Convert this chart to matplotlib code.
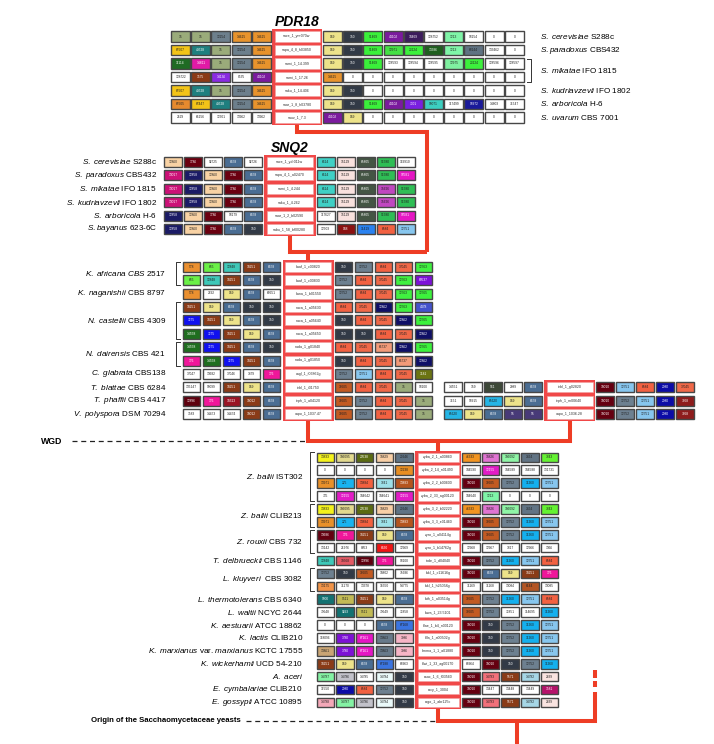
import matplotlib.pyplot as plt
from matplotlib.patches import Rectangle
from matplotlib.colors import to_rgb

plt.rcParams['font.family'] = ['Liberation Sans', 'DejaVu Sans']
plt.rcParams['mathtext.fontset'] = 'custom'
plt.rcParams['mathtext.rm'] = 'Liberation Sans'
plt.rcParams['mathtext.it'] = 'Liberation Sans:italic'
plt.rcParams['mathtext.bf'] = 'Liberation Sans:bold'

LINE_RED = '#ee3d25'
BAND_RED = '#f04848'

# homolog family -> colour (ids not listed are drawn white)
family_colors = {
    '15': '#9aab7a', '12254': '#6d7f8c', '14615': '#e8932c', '949': '#ede38a',
    '150': '#323a46', '91469': '#3af03a', '44102': '#7b1a9e', '18469': '#3c1c5c',
    '1213': '#7ff5a8', '67507': '#f2c418', '67447': '#f2c418', '67505': '#e68a2e',
    '40528': '#1f7f7f', '12971': '#44e044', '23124': '#3cf03c', '13386': '#1e5e1e',
    '68144': '#5f7282', '11114': '#1f6b24', '14811': '#e21aa6', '12975': '#7ff0a0',
    '3575': '#8b3a16', '14136': '#8a2be2', '7001': '#7a1fe0', '93071': '#3ccfc0',
    '93972': '#1a1a9a',
    '12860': '#f8d2a4', '1786': '#6b0010', '6478': '#4a6d93', '6614': '#3fd0c5',
    '15129': '#f9e1de', '65805': '#445544', '91580': '#2fbe55', '13017': '#cc1177',
    '12858': '#1b1b66', '93581': '#e616c4', '15626': '#c047c0', '948': '#8b1111',
    '11419': '#2a82f0', '6584': '#f26141', '12751': '#87c6ee',
    '578': '#ea9030', '655': '#6af046', '12848': '#3ec8b8', '18251': '#8a3b17',
    '12752': '#6d8090', '37045': '#f06848', '12763': '#40f040', '69537': '#7d10d8',
    '12765': '#3cf23c', '7275': '#1010f0', '14558': '#1f6e1f', '12862': '#0f0f66',
    '4478': '#4452cc', '176': '#f0169a', '66737': '#f29a78', '3181': '#6b7412',
    '36605': '#c25a22', '12896': '#5e000e', '10313': '#9a1424', '18012': '#8a3b17',
    '561': '#3d4838', '10010': '#650010', '2080': '#0c0ca6', '65620': '#25b5e5',
    '55': '#483a78', '7668': '#8e1c1c',
    '13833': '#f4f21c', '106095': '#e2d98e', '20538': '#5b6b12', '18829': '#f8cfa6',
    '20246': '#5f7385', '46333': '#f29420', '18826': '#e074d2', '106092': '#8ff5a6',
    '3464': '#627484', '7843': '#64f232', '12238': '#e88e22', '13971': '#e8902a',
    '225': '#19b3ef', '13884': '#f2603f', '3841': '#9de0e8', '13883': '#b4541e',
    '11260': '#14b0ee', '12155': '#e21cc6', '13686': '#640010', '6430': '#f01414',
    '10568': '#e35a64', '13175': '#f29448', '6144': '#b35524', '9300': '#137272',
    '9293': '#137272', '9511': '#c2ba55', '67168': '#3a74e0', '67188': '#3a74e0',
    '3780': '#7d12d6', '67161': '#e516c4', '13863': '#687a8a', '3986': '#f6b5c6',
    '13861': '#c9a575', '14787': '#84f2a4', '14786': '#c2c2ca', '14784': '#eafafa',
    '14783': '#f2707a', '5571': '#8a3b17', '14782': '#a6d6e6', '2839': '#f9e3e0',
    '3581': '#b5126a', '14788': '#f4a8b8',
}

# ---------------- PDR18 ----------------
pdr18_species = [r'$\mathit{S.\ cerevisiae}$ S288c', r'$\mathit{S.paradoxus}$ CBS432',
                 r'$\mathit{S.\ mikatae}$ IFO 1815', r'$\mathit{S.\ kudriavzevii}$ IFO 1802',
                 r'$\mathit{S.\ arboricola}$ H-6', r'$\mathit{S.\ uvarum}$ CBS 7001']
pdr18_label_rows = [[0], [1], [2, 3], [4], [5], [6]]
pdr18_genes = ['sace_1_ynr070w', 'sapa_4_8_h03850', 'sami_1_14.399', 'sami_1_17.26',
               'saku_1_14.406', 'saar_1_8_h03780', 'sauv_1_7.3']
pdr18_left = [
    ['15', '15', '12254', '14615', '14615'],
    ['67507', '40528', '15', '12254', '14615'],
    ['11114', '14811', '15', '12254', '14615'],
    ['128722', '3575', '14136', '8535', '44102'],
    ['67507', '40528', '15', '12254', '14615'],
    ['67505', '67447', '40528', '12254', '14615'],
    ['2529', '66156', '12301', '13962', '13962'],
]
pdr18_right = [
    ['949', '150', '91469', '44102', '18469', '128752', '1213', '93154', '0', '0'],
    ['949', '150', '91469', '12971', '23124', '13386', '1213', '68144', '133462', '0'],
    ['949', '150', '91469', '128593', '128594', '128595', '12975', '23124', '128596', '128597'],
    ['14615', '0', '0', '0', '0', '0', '0', '0', '0', '0'],
    ['949', '150', '0', '0', '0', '0', '0', '0', '0', '0'],
    ['949', '150', '91469', '44102', '7001', '93071', '117499', '93972', '14803', '71547'],
    ['44102', '949', '0', '0', '0', '0', '0', '0', '0', '0'],
]

# ---------------- SNQ2 ----------------
snq2_species = [r'$\mathit{S.\ cerevisiae}$ S288c', r'$\mathit{S.\ paradoxus}$ CBS432',
                r'$\mathit{S.\ mikatae}$ IFO 1815', r'$\mathit{S.\ kudriavzevii}$ IFO 1802',
                r'$\mathit{S.\ arboricola}$ H-6', r'$\mathit{S.bayanus}$ 623-6C']
snq2_genes = ['sace_1_ydr011w', 'sapa_4_1_a02470', 'sami_1_4.244', 'saku_1_4.262',
              'saar_1_2_b02590', 'sabu_1_58_bf00280']
snq2_left = [
    ['12860', '1786', '92725', '6478', '92726'],
    ['13017', '12858', '12860', '1786', '6478'],
    ['13017', '12858', '12860', '1786', '6478'],
    ['13017', '12858', '12860', '1786', '6478'],
    ['12858', '12860', '1786', '93179', '6478'],
    ['12858', '12860', '1786', '6478', '150'],
]
snq2_right = [
    ['6614', '15129', '65805', '91580', '119910'],
    ['6614', '15129', '65805', '91580', '93581'],
    ['6614', '15129', '65805', '15626', '91580'],
    ['6614', '15129', '65805', '15626', '91580'],
    ['117627', '15129', '65805', '91580', '93581'],
    ['12503', '948', '11419', '6584', '12751'],
]

# ---------------- pre-WGD / post-WGD block ----------------
mid_species = [r'$\mathit{K.\ africana\ CBS\ 2517}$', r'$\mathit{K.\ naganishii}$ CBS 8797',
               r'$\mathit{N.\ castellii}$ CBS 4309', r'$\mathit{N.\ dairensis}$ CBS 421',
               r'$\mathit{C.\ glabrata}$ CBS138', r'$\mathit{T.\ blattae}$ CBS 6284',
               r'$\mathit{T.\ phaffii}$ CBS 4417', r'$\mathit{V.\ polyspora}$ DSM 70294']
mid_label_rows = [[0, 1], [2], [3, 4, 5], [6, 7], [8], [9], [10], [11]]
mid_genes = ['kaaf_1_c00820', 'kaaf_1_c00830', 'kana_1_b01550', 'naca_1_a05630',
             'naca_1_a05640', 'naca_1_a05650', 'nada_1_g01840', 'nada_1_g01850',
             'cagl_1_i06862g', 'tebl_1_i01750', 'teph_1_a04120', 'vapo_1_1037.47']
mid_left = [
    ['578', '655', '12848', '18251', '6478'],
    ['655', '12848', '18251', '6478', '150'],
    ['578', '2692', '949', '6478', '66651'],
    ['18251', '949', '6478', '150', '150'],
    ['7275', '18251', '949', '6478', '150'],
    ['14558', '7275', '18251', '949', '6478'],
    ['14558', '7275', '18251', '6478', '150'],
    ['176', '14558', '7275', '18251', '6478'],
    ['37047', '13682', '37046', '3379', '176'],
    ['135147', '98099', '18251', '949', '6478'],
    ['12896', '176', '10313', '18012', '6478'],
    ['3583', '14473', '14474', '18012', '6478'],
]
mid_right = [
    ['150', '12752', '6584', '37045', '12763'],
    ['12752', '6584', '37045', '12763', '69537'],
    ['12752', '6584', '37045', '12763', '12765'],
    ['6584', '37045', '12862', '12763', '4478'],
    ['150', '6584', '37045', '12862', '12765'],
    ['150', '150', '6584', '37045', '12862'],
    ['6584', '37045', '66737', '12862', '12765'],
    ['150', '6584', '37045', '66737', '12862'],
    ['12752', '12751', '6584', '37045', '3181'],
    ['36605', '6584', '37045', '15', '98100'],
    ['36605', '12752', '6584', '37045', '15'],
    ['36605', '12752', '6584', '37045', '15'],
]
# second (ohnolog) copies of the last three species
ohno_genes = ['tebl_1_g02820', 'teph_1_m00640', 'vapo_1_1036.28']
ohno_left = [
    ['14551', '159', '561', '2989', '6478'],
    ['7151', '98915', '65620', '949', '6478'],
    ['65620', '949', '6478', '55', '55'],
]
ohno_right = [
    ['10010', '12751', '6584', '2080', '37045'],
    ['10010', '12752', '12751', '2080', '7668'],
    ['10010', '12752', '12751', '2080', '7668'],
]

# ---------------- lower block ----------------
low_species = [r'$\mathit{Z.\ bailii}$ IST302', r'$\mathit{Z.\ bailii}$ CLIB213',
               r'$\mathit{Z.\ rouxii}$ CBS 732', r'$\mathit{T.\ delbrueckii}$ CBS 1146',
               r'$\mathit{L.\ kluyveri}$  CBS 3082', r'$\mathit{L.\ thermotolerans}$ CBS 6340',
               r'$\mathit{L.\ waltii}$ NCYC 2644', r'$\mathit{K.\ aestuarii}$ ATCC 18862',
               r'$\mathit{K.\ lactis}$ CLIB210',
               r'$\mathit{K.\ marxianus}$ var. $\mathit{marxianus}$ KCTC 17555',
               r'$\mathit{K.\ wickerhamii}$ UCD 54-210', r'$\mathit{A.\ aceri}$',
               r'$\mathit{E.\ cymbalariae}$ CLIB210', r'$\mathit{E.\ gossypii}$ ATCC 10895']
low_label_rows = [[0, 1, 2, 3], [4, 5], [6, 7], [8], [9, 10], [11], [12], [13], [14],
                  [15], [16], [17], [18], [19]]
low_genes = ['zyba_2_1_a00860', 'zyba_2_14_n01490', 'zyba_2_2_b00600', 'zyba_2_33_ag00120',
             'zyba_3_2_b02220', 'zyba_3_3_e01460', 'zyro_1_a04114g', 'zyro_1_b14762g',
             'tode_1_d04040', 'lakl_1_c11616g', 'lakl_1_h25058g', 'lath_1_a03514g',
             'lawa_1_23.5101', 'klae_1_b4_n00120', 'klla_1_a00502g', 'kmma_1_1_a01880',
             'klwi_1_33_ag00170', 'esac_1_6_f03560', 'ercy_1_3004', 'ergo_1_abr125c']
low_left = [
    ['13833', '106095', '20538', '18829', '20246'],
    ['0', '0', '0', '0', '12238'],
    ['13971', '225', '13884', '3841', '13883'],
    ['735', '12155', '104642', '104641', '12155'],
    ['13833', '106095', '20538', '18829', '20246'],
    ['13971', '225', '13884', '3841', '13883'],
    ['13686', '176', '18251', '949', '6478'],
    ['13142', '21976', '8053', '6430', '12969'],
    ['12848', '10568', '12896', '176', '98100'],
    ['12752', '150', '36605', '10802', '75686'],
    ['13175', '71170', '13378', '16550', '54775'],
    ['9300', '9511', '18251', '949', '6478'],
    ['73648', '9293', '9511', '73649', '72858'],
    ['0', '0', '0', '6478', '67168'],
    ['118096', '3780', '67161', '13863', '3986'],
    ['13861', '3780', '67161', '13863', '3986'],
    ['18251', '949', '6478', '67188', '68963'],
    ['14787', '14786', '14785', '14784', '150'],
    ['11550', '2080', '6584', '12752', '150'],
    ['14788', '14787', '14786', '14784', '150'],
]
low_right = [
    ['46333', '18826', '106092', '3464', '7843'],
    ['104590', '12155', '104589', '104588', '131731'],
    ['10010', '36605', '12752', '11260', '12751'],
    ['104640', '1213', '0', '0', '0'],
    ['46333', '18826', '106092', '3464', '7843'],
    ['10010', '36605', '12752', '11260', '12751'],
    ['10010', '36605', '12752', '11260', '12751'],
    ['12968', '12967', '3817', '12966', '1366'],
    ['10010', '12752', '11260', '12751', '6584'],
    ['10010', '6478', '949', '18251', '176'],
    ['71169', '71168', '13084', '6144', '13085'],
    ['36605', '12752', '11260', '12751', '6584'],
    ['36605', '12752', '72851', '114695', '11260'],
    ['10010', '150', '12752', '11260', '12751'],
    ['10010', '150', '12752', '11260', '12751'],
    ['10010', '150', '12752', '11260', '12751'],
    ['68964', '10010', '150', '12752', '11260'],
    ['10010', '14783', '5571', '14782', '2839'],
    ['10010', '13447', '13448', '13449', '3581'],
    ['10010', '14783', '5571', '14782', '2839'],
]


def text_color(c):
    r, g, b = to_rgb(c)
    return 'white' if 0.299 * r + 0.587 * g + 0.114 * b < 0.42 else '#222222'


def draw_block(ax, left, genes, right, x0, y0, dy, pitch, w, h, gene_w):
    """draw rows of neighbour boxes around a red column of focal genes, return geometry"""
    n = len(genes)
    gx = x0 + len(left[0]) * pitch
    rx = gx + gene_w + 1
    top = y0 - h / 2 - 2
    bottom = y0 + (n - 1) * dy + h / 2 + 2
    ax.add_patch(Rectangle((gx, top), gene_w, bottom - top, facecolor=BAND_RED,
                           edgecolor='none', zorder=1))
    for i in range(n):
        yc = y0 + i * dy
        xs = [x0 + j * pitch for j in range(len(left[i]))] + \
             [rx + j * pitch for j in range(len(right[i]))]
        for x, gid in zip(xs, left[i] + right[i]):
            col = family_colors.get(gid, 'white')
            ax.add_patch(Rectangle((x, yc - h / 2), w, h, facecolor=col,
                                   edgecolor='#474747', lw=1.0, zorder=2))
            ax.text(x + w / 2, yc, gid, fontsize=2.3, ha='center', va='center',
                    color=text_color(col), zorder=3)
        ax.add_patch(Rectangle((gx + 2.5, yc - h / 2), gene_w - 5, h, facecolor='white',
                               edgecolor='#f3a0a0', lw=0.4, zorder=2))
        ax.text(gx + gene_w / 2, yc, genes[i], fontsize=2.6, ha='center', va='center',
                color='#333333', zorder=3)
    return gx + gene_w / 2, top, bottom


def bracket(ax, x, y1, y2, tick):
    ax.plot([x + tick, x, x, x + tick], [y1, y1, y2, y2], color='#333333', lw=0.7)


def red_path(ax, xs, ys, **kw):
    ax.plot(xs, ys, color=LINE_RED, lw=2.9, solid_joinstyle='miter',
            solid_capstyle='butt', zorder=0, **kw)


fig = plt.figure(figsize=(7.14, 7.44), dpi=100)
ax = fig.add_axes([0, 0, 1, 1])
ax.set_xlim(0, 714)
ax.set_ylim(744, 0)
ax.axis('off')

# blocks
pdr_y0, pdr_dy = 36.5, 13.5
pdr_cx, pdr_top, pdr_bot = draw_block(ax, pdr18_left, pdr18_genes, pdr18_right,
                                      171, pdr_y0, pdr_dy, 20.2, 19, 10.5, 50)
snq_y0, snq_dy = 161.7, 13.45
snq_cx, snq_top, snq_bot = draw_block(ax, snq2_left, snq2_genes, snq2_right,
                                      164, snq_y0, snq_dy, 20, 18, 10, 51.5)
mid_y0, mid_dy = 266.7, 13.4
mid_cx, mid_top, mid_bot = draw_block(ax, mid_left, mid_genes, mid_right,
                                      182.7, mid_y0, mid_dy, 20, 17.5, 10, 51)
ohno_y0 = mid_y0 + 9 * mid_dy
oh_cx, oh_top, oh_bot = draw_block(ax, ohno_left, ohno_genes, ohno_right,
                                   444, ohno_y0, mid_dy, 20, 18, 10, 51)
low_y0, low_dy = 457.3, 12.9
low_cx, low_top, low_bot = draw_block(ax, low_left, low_genes, low_right,
                                      316.5, low_y0, low_dy, 19.7, 17.5, 9.6, 46)

# titles
ax.text(pdr_cx, 22, 'PDR18', fontsize=10, fontweight='bold', fontstyle='italic',
        ha='center', va='center')
ax.text(snq_cx, 148, 'SNQ2', fontsize=10, fontweight='bold', fontstyle='italic',
        ha='center', va='center')

# species labels
lab_fs = 5.9
for name, rows in zip(pdr18_species, pdr18_label_rows):
    y = pdr_y0 + pdr_dy * (rows[0] + rows[-1]) / 2
    ax.text(540, y, name, fontsize=lab_fs, ha='left', va='center')
    if len(rows) > 1:
        bracket(ax, 531, pdr_y0 + rows[0] * pdr_dy - 5, pdr_y0 + rows[-1] * pdr_dy + 5, -4)
for i, name in enumerate(snq2_species):
    ax.text(157, snq_y0 + i * snq_dy, name, fontsize=lab_fs, ha='right', va='center')
for name, rows in zip(mid_species, mid_label_rows):
    y = mid_y0 + mid_dy * (rows[0] + rows[-1]) / 2
    ax.text(166, y, name, fontsize=lab_fs, ha='right', va='center')
    if len(rows) > 1:
        bracket(ax, 176, mid_y0 + rows[0] * mid_dy - 5, mid_y0 + rows[-1] * mid_dy + 5, 4)
for name, rows in zip(low_species, low_label_rows):
    y = low_y0 + low_dy * (rows[0] + rows[-1]) / 2
    ax.text(303, y, name, fontsize=lab_fs, ha='right', va='center')
    if len(rows) > 1:
        bracket(ax, 310, low_y0 + rows[0] * low_dy - 5, low_y0 + rows[-1] * low_dy + 5, 4)

# red connectors of the gene tree
join1_y, join2_y, wgd_y, origin_y = 132, 252, 441, 721
right_x, side_x = 427, 595
red_path(ax, [pdr_cx, pdr_cx, right_x, right_x], [pdr_bot, join1_y, join1_y, join2_y])
red_path(ax, [snq_cx, snq_cx, right_x], [snq_bot, join2_y, join2_y])
red_path(ax, [mid_cx, mid_cx], [join2_y, mid_top])
red_path(ax, [mid_cx, mid_cx, oh_cx, oh_cx], [mid_bot, wgd_y, wgd_y, oh_bot])
red_path(ax, [low_cx, low_cx], [wgd_y, low_top])
red_path(ax, [low_cx, low_cx, side_x, side_x], [low_bot, origin_y, origin_y, 692])
red_path(ax, [side_x, side_x], [681, 687])
red_path(ax, [side_x, side_x], [670, 678])
red_path(ax, [(low_cx + side_x) / 2] * 2, [origin_y, 744])

# event markers
ax.text(52, wgd_y, 'WGD', fontsize=6.3, fontweight='bold', ha='center', va='center')
ax.plot([72, mid_cx - 2], [wgd_y, wgd_y], color='#222222', lw=0.9, ls=(0, (4, 3)))
ax.text(241, origin_y, 'Origin of the Sacchaomycetaceae yeasts', fontsize=5.6,
        fontweight='bold', ha='right', va='center')
ax.plot([246, low_cx - 2], [origin_y, origin_y], color='#222222', lw=0.9, ls=(0, (4, 3)))

fig.savefig('out.png', dpi=100)
